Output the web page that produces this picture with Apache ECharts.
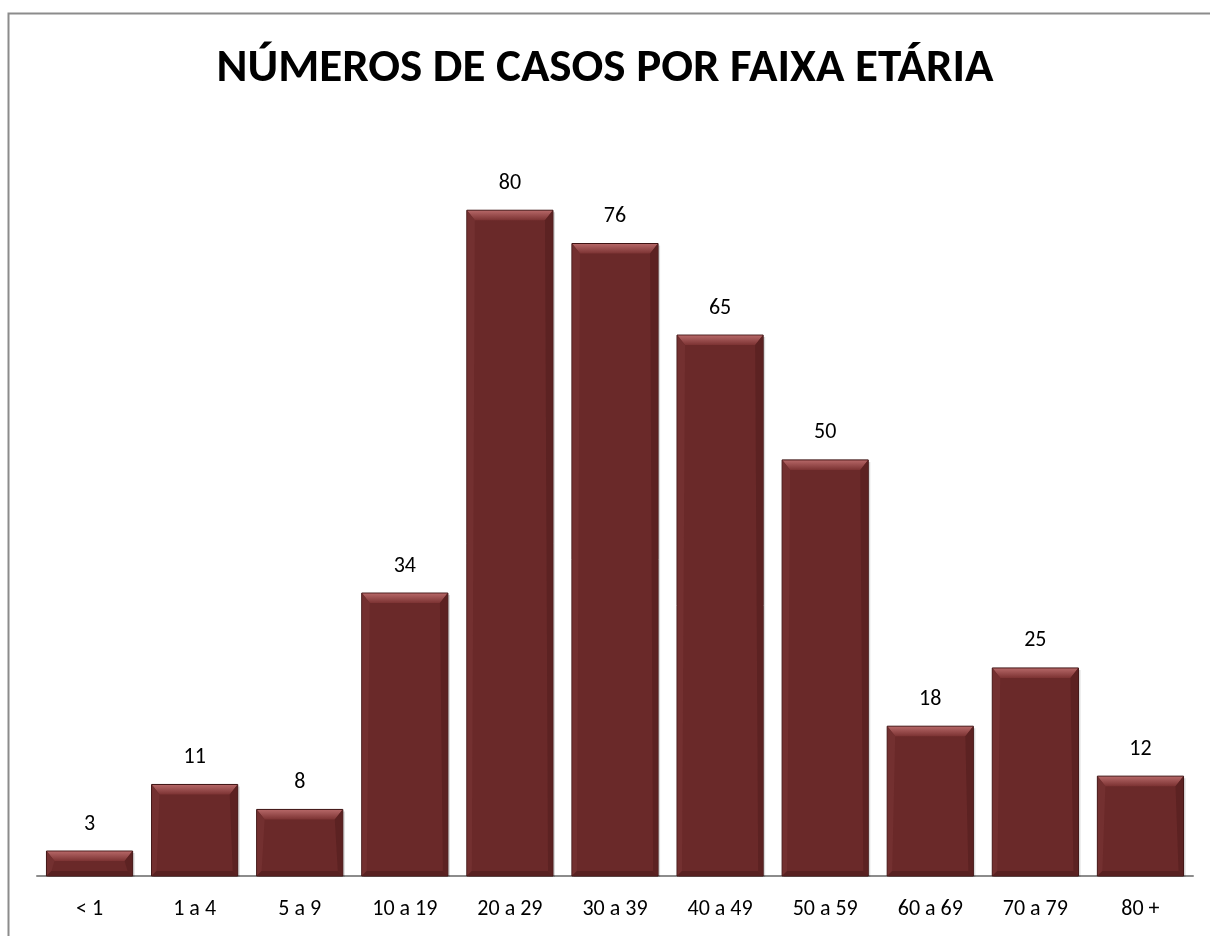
<!DOCTYPE html>
<html>
<head>
    <meta charset="UTF-8">
    <title>Números de casos por faixa etária</title>
    <style>
        html, body { margin: 0; padding: 0; background: #fff; }
        #chart { width: 1210px; height: 936px; }
    </style>
</head>
<body>
    <div id="chart"></div>
    <script src="https://cdn.jsdelivr.net/npm/echarts@6/dist/echarts.min.js"></script>
    <script>
        var faixas = ['< 1', '1 a 4', '5 a 9', '10 a 19', '20 a 29', '30 a 39', '40 a 49', '50 a 59', '60 a 69', '70 a 79', '80 +'];
        var casos = [3, 11, 8, 34, 80, 76, 65, 50, 18, 25, 12];

        var fonte = 'Carlito, "Open Sans", "Liberation Sans", sans-serif';

        // barra com chanfro, parecida com o efeito do Excel
        function desenhaBarra(params, api) {
            var base = api.coord([api.value(0), 0]);
            var topo = api.coord([api.value(0), api.value(1)]);
            var larg = api.size([1, 0])[0] * 0.82;
            var x0 = base[0] - larg / 2, x1 = base[0] + larg / 2;
            var y0 = topo[1], y1 = base[1];
            var bv = Math.min(10, (y1 - y0) / 2.2);
            var bs = 5;
            return {
                type: 'group',
                children: [
                    { type: 'rect', shape: { x: x0 + 2, y: y0 + 2, width: larg, height: y1 - y0 - 1 },
                      style: { fill: 'rgba(0,0,0,0.15)' } },
                    { type: 'rect', shape: { x: x0, y: y0, width: larg, height: y1 - y0 },
                      style: { fill: '#6a2929', stroke: '#3f1414', lineWidth: 1 } },
                    { type: 'polygon', shape: { points: [[x0 + 0.5, y0 + 0.5], [x1 - 0.5, y0 + 0.5], [x1 - bs - 3, y0 + bv], [x0 + bs + 3, y0 + bv]] },
                      style: { fill: new echarts.graphic.LinearGradient(0, 0, 0, 1, [
                          { offset: 0, color: '#b46666' }, { offset: 1, color: '#7c3333' }]) } },
                    { type: 'polygon', shape: { points: [[x0 + 0.5, y0 + 0.5], [x0 + bs + 3, y0 + bv], [x0 + bs, y1 - bs], [x0 + 0.5, y1 - 0.5]] },
                      style: { fill: '#733030' } },
                    { type: 'polygon', shape: { points: [[x1 - 0.5, y0 + 0.5], [x1 - bs - 3, y0 + bv], [x1 - bs, y1 - bs], [x1 - 0.5, y1 - 0.5]] },
                      style: { fill: '#5c2222' } },
                    { type: 'polygon', shape: { points: [[x0 + 0.5, y1 - 0.5], [x0 + bs, y1 - bs], [x1 - bs, y1 - bs], [x1 - 0.5, y1 - 0.5]] },
                      style: { fill: '#582121' } },
                    { type: 'text', x: base[0], y: y0 - 27,
                      style: { text: String(api.value(1)), fill: '#000', font: '22px ' + fonte,
                               align: 'center', verticalAlign: 'middle' } }
                ]
            };
        }

        var chart = echarts.init(document.getElementById('chart'));
        chart.setOption({
            animation: false,
            title: {
                text: 'NÚMEROS DE CASOS POR FAIXA ETÁRIA',
                left: 'center',
                top: 41,
                textStyle: { fontFamily: fonte, fontWeight: 'bold', fontSize: 47, color: '#000' }
            },
            graphic: [{
                type: 'polyline',
                shape: { points: [[8.5, 960], [8.5, 13.5], [1220, 13.5]] },
                style: { stroke: '#8c8c8c', lineWidth: 2, fill: null },
                silent: true
            }],
            grid: { left: 37, right: 17, top: 127, bottom: 60 },
            xAxis: {
                type: 'category',
                data: faixas,
                axisLine: { lineStyle: { color: '#8c8c8c', width: 2 } },
                axisTick: { show: false },
                axisLabel: { color: '#000', fontSize: 22, fontFamily: fonte, margin: 22 }
            },
            yAxis: {
                type: 'value',
                min: 0, max: 90,
                show: false,
                splitLine: { show: false }
            },
            series: [{
                type: 'custom',
                renderItem: desenhaBarra,
                encode: { x: 0, y: 1 },
                data: casos.map(function (v, i) { return [i, v]; })
            }]
        });
    </script>
</body>
</html>
